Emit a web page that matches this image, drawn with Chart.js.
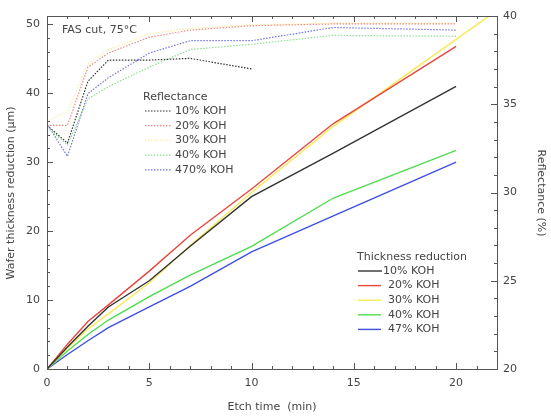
<!DOCTYPE html>
<html>
<head>
<meta charset="utf-8">
<script src="https://cdn.jsdelivr.net/npm/chart.js@4"></script>
<style>
  body { margin: 0; background: #fff; }
  #chart { display: block; }
</style>
</head>
<body>
<canvas id="chart" width="551" height="416"></canvas>
<script>
// --- Data ---
const etchTime = [0, 1, 2, 3, 5, 7, 10, 14, 20];
const etchTimeLong = [0, 1, 2, 3, 5, 7, 10, 14, 20, 22];

// thickness reduction (um), left axis
const thick10 = [0, 3.2, 6.2, 9.0, 12.8, 17.8, 25.0, 31.3, 41.0];
const thick20 = [0, 3.6, 6.9, 9.3, 14.2, 19.4, 26.1, 35.6, 46.8];
const thick30 = [0, 3.0, 5.8, 8.0, 12.5, 17.9, 25.6, 35.2, 47.8, 52.0];
const thick40 = [0, 2.6, 5.0, 7.1, 10.5, 13.6, 17.8, 24.8, 31.7];
const thick47 = [0, 2.1, 4.1, 6.0, 9.0, 12.0, 17.0, 22.2, 30.0];

// reflectance (%), right axis
const refl10 = [33.8, 32.8, 36.3, 37.5, 37.5, 37.6, 37.0];
const refl20 = [33.8, 33.8, 37.1, 37.9, 38.8, 39.2, 39.45, 39.55, 39.55];
const refl30 = [34.0, 34.6, 37.3, 38.1, 39.0, 39.3, 39.5, 39.6, 39.6];
const refl40 = [33.7, 32.7, 35.3, 36.0, 37.1, 38.1, 38.4, 38.9, 38.85];
const refl47 = [33.9, 32.05, 35.6, 36.5, 37.9, 38.6, 38.6, 39.35, 39.2];

const reflLabels = ["10% KOH", "20% KOH", "30% KOH", "40% KOH", "470% KOH"];
const thickLabels = ["10% KOH", "20% KOH", "30% KOH", "40% KOH", "47% KOH"];

const solidColors = ["#333333", "#e8473e", "#f7ea55", "#4fdc4f", "#3f4fe0"];
const dotColors = ["#333333", "#ee8a86", "#fbf0a6", "#8fe08f", "#6f74e4"];

const FONT = "DejaVu Sans";
const TEXT = "#444";

function pts(xs, ys) {
    return ys.map((y, i) => ({ x: xs[i], y }));
}

const thickSeries = [thick10, thick20, thick30, thick40, thick47];
const reflSeries = [refl10, refl20, refl30, refl40, refl47];

const datasets = [];
reflSeries.forEach((ys, i) => {
    datasets.push({
        label: "Reflectance " + reflLabels[i],
        data: pts(etchTime, ys),
        yAxisID: "y2",
        borderColor: dotColors[i],
        borderWidth: 1.2,
        borderDash: [1.5, 1.5],
        pointRadius: 0,
        tension: 0
    });
});
thickSeries.forEach((ys, i) => {
    datasets.push({
        label: "Thickness " + thickLabels[i],
        data: pts(i === 2 ? etchTimeLong : etchTime, ys),
        yAxisID: "y",
        borderColor: solidColors[i],
        borderWidth: 1.4,
        pointRadius: 0,
        tension: 0
    });
});

// --- box, inward ticks, legends, titles ---
const decorPlugin = {
    id: "decor",
    afterDraw(chart) {
        const ctx = chart.ctx;
        const a = chart.chartArea;
        const sx = chart.scales.x, sy = chart.scales.y, sy2 = chart.scales.y2;
        ctx.save();
        ctx.strokeStyle = "#555";
        ctx.lineWidth = 1;
        ctx.strokeRect(Math.round(a.left) + 0.5, Math.round(a.top) + 0.5,
            Math.round(a.right - a.left), Math.round(a.bottom - a.top));

        ctx.beginPath();
        for (let v = 0; v <= 22; v++) {
            const px = Math.round(sx.getPixelForValue(v)) + 0.5;
            const len = v % 5 === 0 ? 6 : 3;
            ctx.moveTo(px, a.bottom); ctx.lineTo(px, a.bottom - len);
            ctx.moveTo(px, a.top); ctx.lineTo(px, a.top + len);
        }
        for (let v = 0; v <= 50; v += 2) {
            const py = Math.round(sy.getPixelForValue(v)) + 0.5;
            const len = v % 10 === 0 ? 6 : 3;
            ctx.moveTo(a.left, py); ctx.lineTo(a.left + len, py);
        }
        for (let v = 20; v <= 40; v++) {
            const py = Math.round(sy2.getPixelForValue(v)) + 0.5;
            const len = v % 5 === 0 ? 6 : 3;
            ctx.moveTo(a.right, py); ctx.lineTo(a.right - len, py);
        }
        ctx.stroke();

        ctx.fillStyle = TEXT;
        ctx.font = "11px '" + FONT + "'";
        ctx.textBaseline = "middle";
        ctx.textAlign = "left";
        ctx.fillText("FAS cut, 75°C", 62, 30);

        // reflectance legend
        ctx.fillText("Reflectance", 143, 97);
        reflLabels.forEach((lab, i) => {
            const y = 111 + i * 14.7;
            ctx.fillStyle = TEXT;
            ctx.fillText(lab, 175, y);
            ctx.strokeStyle = dotColors[i];
            ctx.setLineDash([1.5, 1.5]);
            ctx.lineWidth = 1.2;
            ctx.beginPath();
            ctx.moveTo(145, y); ctx.lineTo(171, y);
            ctx.stroke();
        });
        ctx.setLineDash([]);

        // thickness legend
        ctx.fillStyle = TEXT;
        ctx.fillText("Thickness reduction", 357, 257);
        thickLabels.forEach((lab, i) => {
            const y = 271 + i * 14.6;
            ctx.fillStyle = TEXT;
            ctx.fillText(lab, i === 0 ? 383 : 388, y);
            ctx.strokeStyle = solidColors[i];
            ctx.lineWidth = 1.4;
            ctx.beginPath();
            ctx.moveTo(358, y); ctx.lineTo(i === 0 ? 382 : 381, y);
            ctx.stroke();
        });

        // axis titles
        ctx.fillStyle = TEXT;
        ctx.textAlign = "center";
        ctx.fillText("Etch time  (min)", 272, 407);

        ctx.save();
        ctx.translate(11, 193);
        ctx.rotate(-Math.PI / 2);
        ctx.fillText("Wafer thickness reduction (µm)", 0, 0);
        ctx.restore();

        ctx.save();
        ctx.translate(541, 193);
        ctx.rotate(Math.PI / 2);
        ctx.fillText("Reflectance (%)", 0, 0);
        ctx.restore();

        ctx.restore();
    }
};

const tickFont = { family: FONT, size: 11 };

new Chart(document.getElementById("chart").getContext("2d"), {
    type: "line",
    data: { datasets },
    options: {
        responsive: false,
        animation: false,
        devicePixelRatio: 1,
        layout: { padding: { top: 16, left: 0, right: 0, bottom: 0 } },
        plugins: { legend: { display: false }, tooltip: { enabled: false } },
        scales: {
            x: {
                type: "linear", min: 0, max: 22,
                grid: { display: false, drawTicks: false },
                border: { display: false },
                ticks: { stepSize: 5, includeBounds: false, padding: 8, color: TEXT, font: tickFont, maxRotation: 0 },
                afterFit: s => { s.height = 47; }
            },
            y: {
                type: "linear", position: "left", min: 0, max: 51.2,
                grid: { display: false, drawTicks: false },
                border: { display: false },
                ticks: { stepSize: 10, includeBounds: false, padding: 7, color: TEXT, font: tickFont },
                afterFit: s => { s.width = 47; }
            },
            y2: {
                type: "linear", position: "right", min: 20, max: 40,
                grid: { display: false, drawTicks: false },
                border: { display: false },
                ticks: { stepSize: 5, padding: 6, color: TEXT, font: tickFont },
                afterFit: s => { s.width = 54; }
            }
        }
    },
    plugins: [decorPlugin]
});
</script>
</body>
</html>
